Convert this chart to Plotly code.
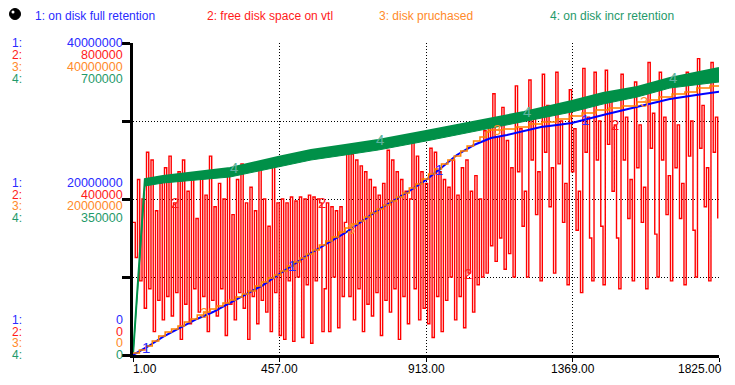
import numpy as np
import plotly.graph_objects as go

# ---------------- data ----------------
x_tick_days = [1, 457, 913, 1369, 1825]
x_tick_labels = ["1.00", "457.00", "913.00", "1369.00", "1825.00"]

series_names = ["1: on disk full retention", "2: free disk space on vtl",
                "3: disk pruchased", "4: on disk incr retention"]
scale_max = [40000000, 800000, 40000000, 700000]

# 1: on disk full retention (millions)
full_days = [1, 45, 94, 147, 200, 250, 303, 356, 406, 452, 555, 661, 764, 866, 913,
             960, 1009, 1062, 1115, 1165, 1218, 1271, 1321, 1367, 1464, 1570, 1672, 1775, 1825]
full_millions = [0, 1.03, 2.31, 3.46, 4.62, 5.51, 6.67, 7.82, 8.97, 10.26, 13.08, 15.64, 18.59,
                 21.15, 22.44, 23.97, 25.64, 26.92, 27.82, 28.21, 28.72, 29.23, 29.49, 29.74,
                 30.77, 31.79, 32.82, 33.46, 33.75]

# 2: free disk space on vtl (thousands), weekly samples
free_days = list(range(1, 1822, 7))
free_thousands = [
    340, 250, 450, 190, 400, 120, 520, 170, 500, 60,
    370, 140, 440, 90, 480, 150, 510, 100, 390, 160,
    470, 40, 500, 130, 420, 80, 460, 170, 350, 110,
    470, 150, 410, 60, 510, 140, 380, 100, 440, 170,
    400, 50, 470, 130, 360, 90, 450, 160, 490, 120,
    390, 40, 430, 150, 370, 80, 480, 140, 400, 110,
    330, 60, 490, 160, 390, 50,
    400, 40, 390, 190, 405, 35, 395, 200, 405, 45,
    400, 180, 410, 30, 405, 190, 400, 390, 60, 170,
    390, 60, 380, 200, 370, 70, 380, 150, 340,
    525, 150, 515, 90, 500, 170, 485, 60, 470, 130,
    450, 100, 430, 160, 410, 50, 440, 140, 525, 110,
    500, 170, 470, 40, 450, 150, 420, 80, 400, 545,
    170, 510, 90, 470, 120, 440, 80, 530, 45, 520,
    150, 470, 60, 450, 140, 430, 200, 500, 90, 410,
    150, 480, 70, 500, 210, 420, 110, 460, 180, 400,
    200, 575, 210,
    600, 280, 670, 240, 560, 300, 635, 220, 550, 260, 480, 200, 690,
    470, 580, 330, 420, 200,
    705, 500, 620, 360, 470, 190,
    720, 520, 640, 380, 480, 210,
    725, 490, 600, 340, 440, 180,
    680, 470, 580, 320, 420, 160,
    735, 520, 610, 300, 190,
    725, 500, 600, 330, 180,
    730, 540, 650, 420, 590, 300, 170,
    720, 500, 610, 350, 450, 190,
    700, 480, 590, 340, 430, 170,
    750, 530, 620, 310, 200,
    725, 500, 610, 360, 460, 190,
    690, 480, 590, 350, 440, 180,
    725, 510, 600, 320, 200,
    760, 530, 640, 380, 480, 190,
    750, 520, 610, 350,
]

# 3: disk pruchased (millions), step changes
purchased_days = list(range(1, 1102, 20)) + [1109, 1156, 1193, 1234, 1274, 1318, 1361, 1399, 1442,
                                             1483, 1523, 1570, 1610, 1638, 1679, 1719, 1756, 1797, 1825]
purchased_millions = [
    0.26, 0.64, 1.15, 1.79, 2.44, 2.95, 3.33, 3.72, 4.23, 4.62, 5.13, 5.51, 5.90, 6.28,
    6.67, 7.05, 7.44, 7.82, 8.21, 8.85, 9.36, 9.87, 10.26, 10.77, 11.41, 11.92, 12.44,
    12.95, 13.46, 14.10, 14.62, 15.13, 15.77, 16.28, 16.79, 17.18, 17.69, 18.21, 18.72,
    19.23, 19.74, 20.26, 20.77, 21.41, 21.92, 22.56, 23.21, 23.85, 24.49, 25.00, 25.51,
    26.15, 26.79, 27.44, 27.95, 28.59,
    28.85, 28.97, 29.23, 29.62, 29.87, 30.26, 30.64, 31.03, 31.41, 31.67, 31.92, 32.44,
    32.69, 33.08, 33.46, 33.72, 34.23, 34.49, 34.49]

# 4: on disk incr retention (thousands): upper / lower envelope of the daily sawtooth
incr_days = [1, 13, 23, 32, 38, 94, 200, 303, 452, 555, 661, 764, 913, 1009, 1115, 1218,
             1367, 1464, 1570, 1672, 1825]
incr_high_k = [0, 123, 236, 337, 394.9, 401.6, 410.6, 419.6, 444.2, 459.9, 471.2, 482.4,
               502.6, 516.0, 531.7, 545.2, 569.9, 587.8, 601.3, 621.5, 643.9]
incr_low_k = [0, 123, 236, 337, 379.2, 385.9, 392.6, 399.4, 421.8, 437.5, 448.7, 459.9,
              480.1, 493.6, 509.3, 522.8, 545.2, 563.1, 578.8, 599.0, 612.5]

# days at which the series number labels sit on the curves
label_days = {1: [41, 497, 953, 1409], 2: [132, 588, 1044, 1500],
              3: [223, 679, 1135, 1591], 4: [315, 771, 1227, 1683]}

# ---------------- styling ----------------
C_BLUE, C_RED, C_ORANGE, C_GREEN = "#0000ff", "#ff0000", "#ff8000", "#009048"
TXT = ["#2a2aff", "#ff1a1a", "#ff8a2a", "#1f9a6a"]
FONT = "Liberation Sans, Arial, sans-serif"

full = np.array(full_millions) * 1e6
free = np.array(free_thousands) * 1e3
purchased = np.array(purchased_millions) * 1e6
incr_high = np.array(incr_high_k) * 1e3
incr_low = np.array(incr_low_k) * 1e3

fig = go.Figure()
# red on the base axis (drawn lowest)
fig.add_trace(go.Scatter(x=free_days, y=free, mode="lines", yaxis="y",
                         line=dict(color=C_RED, width=1.4, shape="hv"), hoverinfo="skip"))
# green band
fig.add_trace(go.Scatter(x=incr_days, y=incr_high, mode="lines", yaxis="y2",
                         line=dict(color=C_GREEN, width=0), hoverinfo="skip"))
fig.add_trace(go.Scatter(x=incr_days, y=incr_low, mode="lines", yaxis="y2", fill="tonexty",
                         fillcolor=C_GREEN, line=dict(color=C_GREEN, width=1), hoverinfo="skip"))
fig.add_trace(go.Scatter(x=incr_days, y=incr_high, mode="lines", yaxis="y2",
                         line=dict(color=C_GREEN, width=2), hoverinfo="skip"))
# blue
fig.add_trace(go.Scatter(x=full_days, y=full, mode="lines", yaxis="y3",
                         line=dict(color=C_BLUE, width=2), hoverinfo="skip"))
# orange steps (on top)
fig.add_trace(go.Scatter(x=purchased_days, y=purchased, mode="lines", yaxis="y4",
                         line=dict(color=C_ORANGE, width=1.5, shape="hv"), hoverinfo="skip"))


def step_value(days, vals, d):
    i = np.searchsorted(days, d, side="right") - 1
    return vals[max(i, 0)]


ann = []
# series labels on curves
for d in label_days[1]:
    ann.append(dict(x=d, y=float(np.interp(d, full_days, full)), yref="y3", text="1"))
for d in label_days[2]:
    ann.append(dict(x=d, y=float(step_value(free_days, free, d)), yref="y", text="2"))
for d in label_days[3]:
    ann.append(dict(x=d, y=float(step_value(purchased_days, purchased, d)), yref="y4", text="3"))
for d in label_days[4]:
    ann.append(dict(x=d, y=float(np.interp(d, incr_days, incr_high)), yref="y2", text="4"))
col_for = {"1": TXT[0], "2": TXT[1], "3": TXT[2], "4": "#5fb3a0"}
for a in ann:
    a.update(xref="x", showarrow=False, font=dict(family=FONT, size=15, color=col_for[a["text"]]),
             xanchor="center", yanchor="middle")


# pixel helpers for paper-anchored texts
def px(xp):
    return (xp - 133) / 586.0


def py(yp):
    return (355 - yp) / 312.0


# top legend
for k, (name, xp) in enumerate(zip(series_names, [33, 205, 377, 548])):
    ann.append(dict(xref="paper", yref="paper", x=px(xp), y=py(16), text=name, showarrow=False,
                    xanchor="left", yanchor="middle", font=dict(family=FONT, size=12, color=TXT[k])))

# left scale labels
rows = {"top": [43, 55, 67, 79], "mid": [183, 195, 206, 218], "bot": [320, 332, 343, 355]}
for block, frac in (("top", 1.0), ("mid", 0.5), ("bot", 0.0)):
    for k in range(4):
        yp = rows[block][k]
        ann.append(dict(xref="paper", yref="paper", x=px(11), y=py(yp), text=f"{k+1}:",
                        showarrow=False, xanchor="left", yanchor="middle", borderpad=0,
                        font=dict(family=FONT, size=12, color=TXT[k])))
        ann.append(dict(xref="paper", yref="paper", x=px(124), y=py(yp),
                        text=str(int(scale_max[k] * frac)), showarrow=False, xanchor="right",
                        yanchor="middle", borderpad=0,
                        font=dict(family=FONT, size=12.5, color=TXT[k])))

# x tick labels
for i, (d, t) in enumerate(zip(x_tick_days, x_tick_labels)):
    if i == 0:
        xa, xs = "left", -2
    elif i == len(x_tick_days) - 1:
        xa, xs = "right", 5
    else:
        xa, xs = "center", 0
    ann.append(dict(xref="x", yref="paper", x=d, y=py(369), text=t, showarrow=False,
                    xanchor=xa, yanchor="middle", xshift=xs,
                    font=dict(family=FONT, size=12, color="#000000")))

dot = "1px,2px"
fig.update_layout(
    width=735, height=385, autosize=False,
    margin=dict(l=133, r=16, t=43, b=30, pad=0),
    paper_bgcolor="white", plot_bgcolor="white",
    showlegend=False,
    xaxis=dict(range=[1, 1825], tickvals=x_tick_days, showticklabels=False, ticks="outside",
               ticklen=4, tickwidth=1, tickcolor="black", showgrid=True, gridcolor="black",
               griddash=dot, gridwidth=1, showline=True, linewidth=3, linecolor="black",
               zeroline=False, fixedrange=True),
    yaxis=dict(range=[0, scale_max[1]], tickvals=[0, 200000, 400000, 600000, 800000],
               showticklabels=False, ticks="outside", ticklen=8, tickwidth=3, tickcolor="black",
               showgrid=True, gridcolor="black", griddash=dot, gridwidth=1, showline=True,
               linewidth=3, linecolor="black", zeroline=False, fixedrange=True),
    yaxis2=dict(range=[0, scale_max[3]], overlaying="y", visible=False, fixedrange=True),
    yaxis3=dict(range=[0, scale_max[0]], overlaying="y", visible=False, fixedrange=True),
    yaxis4=dict(range=[0, scale_max[2]], overlaying="y", visible=False, fixedrange=True),
    annotations=ann,
    shapes=[
        dict(type="circle", xref="paper", yref="paper", x0=px(9.5), x1=px(20.5),
             y0=py(19.5), y1=py(8.5), fillcolor="black", line=dict(color="black", width=1)),
        dict(type="circle", xref="paper", yref="paper", x0=px(11.5), x1=px(14.5),
             y0=py(13.5), y1=py(10.5), fillcolor="white", line=dict(width=0)),
    ],
)

fig.write_html("out.html")
